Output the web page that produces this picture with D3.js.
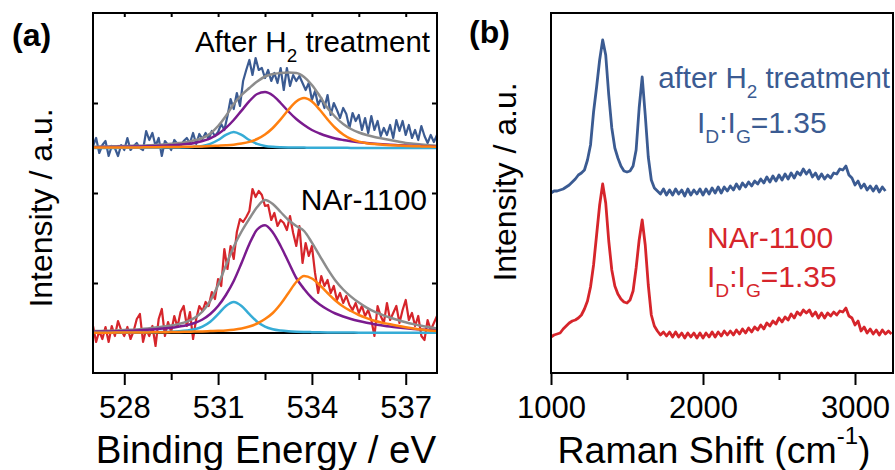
<!DOCTYPE html>
<html>
<head>
<meta charset="utf-8">
<script src="https://cdn.jsdelivr.net/npm/d3@7"></script>
<style>
	body { margin: 0; background: #fff; }
	svg { display: block; font-family: 'Liberation Sans', Arial, sans-serif; }
</style>
</head>
<body>
<svg id="chart" width="895" height="470"></svg>
<script>
// (a) O 1s XPS, raw spectra, 527-538 eV every 0.1 eV, height above each baseline
const xpsStart = 527
const xpsStep = 0.1
const xpsH2 = [
	2, 10, -5, 3, 7, -8, 2, 0, -8, 3,
	-2, 10, -2, 2, 5, 0, -2, 17, 8, 15,
	2, 10, -8, 7, 3, -2, 8, 4, 2, 7,
	10, 5, 15, 4, 14, 9, 15, 9, 17, 12,
	16, 24, 18, 32, 49, 39, 55, 42, 67, 78,
	88, 73, 90, 78, 80, 70, 78, 67, 75, 65,
	80, 58, 80, 62, 73, 67, 72, 65, 58, 65,
	48, 57, 43, 50, 40, 53, 33, 45, 38, 30,
	40, 34, 20, 35, 27, 33, 18, 30, 15, 32,
	18, 27, 12, 20, 13, 23, 10, 28, 17, 27,
	13, 23, 10, 18, 8, 22, 12, 5, 13, 6,
	13
]
const xpsNAr = [
	7, -9, 2, -6, 6, -9, 7, -3, 12, 3,
	-3, 6, -6, 2, 14, 19, -9, 4, -3, 7,
	-13, 14, 24, -3, 11, 1, 17, 6, 21, 27,
	7, 21, -6, 14, 27, 22, 31, 27, 41, 34,
	54, 47, 84, 64, 87, 74, 101, 114, 111, 116,
	122, 144, 136, 142, 138, 127, 128, 113, 120, 107,
	113, 110, 103, 117, 100, 87, 107, 70, 90, 77,
	87, 60, 40, 57, 47, 53, 40, 47, 33, 40,
	30, 37, 28, 23, 30, 20, 27, 17, 23, 13,
	-3, 27, 17, 10, 30, 13, 20, 27, 10, 23,
	33, 13, 20, 7, 17, -3, -7, 13, 3, 10,
	17
]

// fitted components, 527-538 eV every 0.25 eV
const fitStart = 527
const fitStep = 0.25
const fitH2Envelope = [
	1.3, 1.4, 1.6, 1.7, 1.9, 2.2, 2.3, 2.7, 3.1, 3.6,
	4.2, 4.9, 5.9, 7.7, 10, 14.5, 22, 32, 44, 53,
	60, 66.5, 71.5, 74, 75, 75.5, 75, 71, 63, 52,
	40, 31, 24, 19, 15.5, 13, 11, 9.5, 8, 6.5,
	5, 4.2, 3.5, 2.8, 2.2
]
const fitH2Purple = [
	0.8, 0.9, 1.0, 1.1, 1.2, 1.4, 1.5, 1.7, 2.0, 2.3,
	2.7, 3.2, 3.9, 5.1, 7.0, 9.7, 14.0, 20.1, 28.0, 37.4,
	46.8, 54.0, 55.9, 52.5, 45, 36.5, 29, 23, 18, 14.5,
	11.7, 9.5, 8, 6.8, 5.8, 5, 4.3, 3.7, 3.2, 2.8,
	2.4, 2.1, 1.9, 1.7, 1.5
]
const fitH2Orange = [
	0.4, 0.4, 0.5, 0.5, 0.5, 0.6, 0.6, 0.7, 0.8, 0.9,
	1.0, 1.1, 1.2, 1.4, 1.6, 1.9, 2.3, 2.7, 3.3, 4.4,
	6.1, 9.0, 13.5, 20.0, 28.6, 38.2, 46.5, 50, 46.5, 38.2,
	28.6, 20.0, 13.5, 9.0, 6.4, 4.8, 3.9, 3.3, 2.8, 2.4,
	2.1, 1.8, 1.6, 1.4, 1.2
]
const fitH2Cyan = [
	0.1, 0.1, 0.1, 0.1, 0.2, 0.2, 0.2, 0.3, 0.3, 0.4,
	0.5, 0.6, 0.8, 1.2, 2.1, 4.1, 8.0, 13.1, 16, 13.1,
	8.0, 4.1, 2.1, 1.2, 0.8, 0.6, 0.5, 0.4, 0.3, 0.3,
	0.2, 0.2, 0.2, 0.1, 0.1, 0.1, 0.1, 0.1, 0.1, 0.1,
	0.1, 0.1, 0.1, 0.1, 0.1
]
const fitNArEnvelope = [
	1.9, 2.0, 2.3, 2.6, 2.9, 3.3, 3.8, 4.5, 5.4, 6.4,
	7.4, 9.1, 11.4, 15.1, 21.5, 32.2, 48, 67.6, 86.3, 101.5,
	114.3, 126, 133, 129, 121, 113, 107, 102, 90.4, 77.2,
	64.1, 52.5, 43.5, 36.4, 30.4, 25.4, 21.3, 18.2, 15.5, 13,
	10.8, 8.9, 7.2, 5.8, 4.6
]
const fitNArPurple = [
	1.3, 1.4, 1.6, 1.8, 2.0, 2.3, 2.7, 3.2, 3.8, 4.5,
	5.2, 6.4, 7.8, 10, 13.5, 19, 27, 38, 52, 70,
	89, 103.5, 107.8, 100.5, 87, 71, 55, 44, 35, 28.5,
	23.5, 19.5, 16.5, 14, 12, 10.3, 8.8, 7.6, 6.5, 5.6,
	4.8, 4.1, 3.5, 3.0, 2.6
]
const fitNArOrange = [
	0.3, 0.3, 0.35, 0.4, 0.45, 0.5, 0.55, 0.6, 0.7, 0.8,
	0.9, 1.0, 1.2, 1.4, 1.6, 1.9, 2.2, 2.6, 3.3, 4.5,
	6.5, 9.5, 14, 20, 29, 40, 51, 57, 54.5, 48,
	40, 32.5, 26.5, 22, 18, 14.8, 12.2, 10.3, 8.8, 7.2,
	5.8, 4.6, 3.5, 2.6, 1.9
]
const fitNArCyan = [
	0.27, 0.32, 0.36, 0.4, 0.45, 0.51, 0.59, 0.71, 0.87, 1.05,
	1.3, 1.7, 2.4, 3.7, 6.4, 11.3, 18.8, 27, 31, 27,
	18.8, 11.3, 6.4, 3.7, 2.4, 1.7, 1.3, 1.05, 0.87, 0.71,
	0.59, 0.51, 0.45, 0.4, 0.36, 0.32, 0.27, 0.25, 0.22, 0.2,
	0.19, 0.17, 0.16, 0.15, 0.14
]
const baselineEnergy = [527, 538]
const baselineValues = [0, 0]

// vertical offsets of the two stacked XPS spectra
const offsetH2 = 225
const offsetNAr = 40

const xpsMajorTicks = [528, 531, 534, 537]
const xpsMinorTicks = [529.5, 532.5, 535.5]
const xpsSideTicks = [90, 180, 270]

// (b) Raman, 1000 cm-1 upwards every 20 cm-1
const ramanStart = 1000
const ramanStep = 20
const ramanH2 = [
	180, 182, 182, 183, 184, 186, 188, 191, 194, 198,
	200, 203, 213, 228, 261, 286, 313, 333, 318, 278,
	245, 225, 215, 207, 202, 201, 202, 207, 223, 265,
	296, 258, 216, 193, 185, 182, 179, 184, 178, 183,
	178, 184, 179, 183, 177, 184, 178, 183, 179, 184,
	178, 184, 179, 185, 180, 186, 180, 186, 182, 187,
	183, 189, 184, 190, 186, 191, 187, 192, 189, 194,
	190, 196, 191, 197, 192, 198, 193, 199, 194, 200,
	195, 201, 198, 204, 199, 203, 196, 200, 194, 199,
	194, 198, 195, 200, 199, 204, 203, 207, 198, 195,
	188, 192, 185, 189, 183, 187, 182, 187, 181, 186,
	182
]
const ramanNAr = [
	36, 38, 39, 40, 44, 47, 50, 52, 53, 55,
	58, 64, 72, 86, 108, 138, 168, 189, 170, 132,
	103, 87, 79, 74, 71, 70, 73, 82, 105, 133,
	153, 128, 88, 58, 47, 42, 38, 41, 37, 41,
	36, 41, 36, 40, 35, 40, 36, 40, 35, 40,
	35, 40, 36, 41, 36, 41, 37, 42, 38, 42,
	38, 43, 39, 44, 40, 45, 41, 46, 43, 48,
	44, 50, 47, 52, 49, 55, 51, 56, 53, 59,
	55, 61, 58, 63, 60, 63, 57, 61, 55, 60,
	55, 60, 57, 61, 58, 62, 61, 65, 57, 55,
	48, 52, 42, 46, 40, 44, 39, 43, 38, 43,
	39, 42, 39
]
const ramanMajorTicks = [1000, 2000, 3000]
const ramanMinorTicks = [1500, 2500]

const colors = {
	h2: '#3b5b92',
	nar: '#d6252b',
	envelope: '#8c8c8c',
	purple: '#7a1b8e',
	orange: '#ff8010',
	cyan: '#36acd6'
}

const svg = d3.select('#chart')

const xA = d3.scaleLinear().domain([527, 538]).range([93, 437])
const xB = d3.scaleLinear().domain([1000, 3250]).range([551, 893])
const y = d3.scaleLinear().domain([0, 360]).range([373, 13])

const series = (values, start, step, offset = 0) =>
	values.map((v, i) => [start + i * step, v + offset])

const drawLine = (data, x, color, width, curve = d3.curveLinear) => {
	svg.append('path')
		.datum(data)
		.attr('fill', 'none')
		.attr('stroke', color)
		.attr('stroke-width', width)
		.attr('stroke-linejoin', 'round')
		.attr('d', d3.line().x((d) => x(d[0])).y((d) => y(d[1])).curve(curve))
}

const addText = (x, yPos, parts, size, opts = {}) => {
	const t = svg.append('text')
		.attr('x', x)
		.attr('y', yPos)
		.attr('font-size', size)
		.attr('font-weight', opts.weight || 'normal')
		.attr('text-anchor', opts.anchor || 'start')
		.attr('fill', opts.color || '#000')
	if (opts.transform) t.attr('transform', opts.transform)
	let shift = 0
	parts.forEach(([str, kind]) => {
		const target = kind === 'sub' ? size * 0.33 : kind === 'sup' ? -size * 0.5 : 0
		t.append('tspan')
			.attr('dy', target - shift)
			.attr('font-size', kind ? size * 0.64 : size)
			.text(str)
		shift = target
	})
	return t
}

const styleAxis = (g) => {
	g.select('.domain').remove()
	g.selectAll('line').attr('stroke', '#000').attr('stroke-width', 2)
	g.selectAll('text')
		.attr('y', 45)
		.attr('dy', 0)
		.attr('fill', '#000')
		.attr('font-size', 31)
		.attr('font-family', 'Liberation Sans, Arial, sans-serif')
}

// ---- panel (a) ----
const fitCurve = d3.curveMonotoneX

drawLine(series(xpsH2, xpsStart, xpsStep, offsetH2), xA, colors.h2, 2.2)
drawLine(series(fitH2Envelope, fitStart, fitStep, offsetH2), xA, colors.envelope, 2.5, fitCurve)
drawLine(baselineEnergy.map((e, i) => [e, baselineValues[i] + offsetH2]), xA, '#000', 2)
drawLine(series(fitH2Purple, fitStart, fitStep, offsetH2), xA, colors.purple, 2.5, fitCurve)
drawLine(series(fitH2Cyan, fitStart, fitStep, offsetH2), xA, colors.cyan, 2.5, fitCurve)
drawLine(series(fitH2Orange, fitStart, fitStep, offsetH2), xA, colors.orange, 2.5, fitCurve)

drawLine(series(xpsNAr, xpsStart, xpsStep, offsetNAr), xA, colors.nar, 2.2)
drawLine(series(fitNArEnvelope, fitStart, fitStep, offsetNAr), xA, colors.envelope, 2.5, fitCurve)
drawLine(baselineEnergy.map((e, i) => [e, baselineValues[i] + offsetNAr]), xA, '#000', 2)
drawLine(series(fitNArPurple, fitStart, fitStep, offsetNAr), xA, colors.purple, 2.5, fitCurve)
drawLine(series(fitNArCyan, fitStart, fitStep, offsetNAr), xA, colors.cyan, 2.5, fitCurve)
drawLine(series(fitNArOrange, fitStart, fitStep, offsetNAr), xA, colors.orange, 2.5, fitCurve)

svg.append('g').attr('transform', 'translate(0,373)')
	.call(d3.axisBottom(xA).tickValues(xpsMajorTicks).tickSize(12).tickSizeOuter(0).tickFormat(d3.format('d')))
	.call(styleAxis)
svg.append('g').attr('transform', 'translate(0,373)')
	.call(d3.axisBottom(xA).tickValues(xpsMinorTicks).tickSize(7).tickSizeOuter(0).tickFormat(''))
	.call(styleAxis)
svg.append('g').attr('transform', 'translate(0,13)')
	.call(d3.axisTop(xA).tickValues(xpsMajorTicks.concat(xpsMinorTicks)).tickSize(-4).tickSizeOuter(0).tickFormat(''))
	.call(styleAxis)
svg.append('g').attr('transform', 'translate(93,0)')
	.call(d3.axisLeft(y).tickValues(xpsSideTicks).tickSize(-5).tickSizeOuter(0).tickFormat(''))
	.call(styleAxis)
svg.append('g').attr('transform', 'translate(437,0)')
	.call(d3.axisRight(y).tickValues(xpsSideTicks).tickSize(-5).tickSizeOuter(0).tickFormat(''))
	.call(styleAxis)

svg.append('rect')
	.attr('x', 93).attr('y', 13)
	.attr('width', 437 - 93).attr('height', 360)
	.attr('fill', 'none').attr('stroke', '#000').attr('stroke-width', 2)

addText(12, 46, [['(a)']], 32, { weight: 'bold' })
addText(0, 0, [['Intensity / a.u.']], 32, { anchor: 'middle', transform: 'translate(52,208) rotate(-90)' })
addText(430, 52, [['After H'], ['2', 'sub'], [' treatment']], 29.5, { anchor: 'end' })
addText(427, 210, [['NAr-1100']], 30, { anchor: 'end' })
addText(266, 463, [['Binding Energy / eV']], 38.5, { anchor: 'middle' })

// ---- panel (b) ----
drawLine(series(ramanH2, ramanStart, ramanStep), xB, colors.h2, 2.8)
drawLine(series(ramanNAr, ramanStart, ramanStep), xB, colors.nar, 2.8)

svg.append('g').attr('transform', 'translate(0,373)')
	.call(d3.axisBottom(xB).tickValues(ramanMajorTicks).tickSize(12).tickSizeOuter(0).tickFormat(d3.format('d')))
	.call(styleAxis)
svg.append('g').attr('transform', 'translate(0,373)')
	.call(d3.axisBottom(xB).tickValues(ramanMinorTicks).tickSize(7).tickSizeOuter(0).tickFormat(''))
	.call(styleAxis)

svg.append('rect')
	.attr('x', 551).attr('y', 13)
	.attr('width', 893 - 551).attr('height', 360)
	.attr('fill', 'none').attr('stroke', '#000').attr('stroke-width', 2)

addText(469, 43, [['(b)']], 32, { weight: 'bold' })
addText(0, 0, [['Intensity / a.u.']], 32, { anchor: 'middle', transform: 'translate(516,182) rotate(-90)' })
addText(890, 88, [['after H'], ['2', 'sub'], [' treatment']], 29.5, { anchor: 'end', color: colors.h2 })
addText(697, 133, [['I'], ['D', 'sub'], [':I'], ['G', 'sub'], ['=1.35']], 30, { color: colors.h2 })
addText(707, 248, [['NAr-1100']], 30, { color: colors.nar })
addText(707, 287, [['I'], ['D', 'sub'], [':I'], ['G', 'sub'], ['=1.35']], 30, { color: colors.nar })
addText(714, 463, [['Raman Shift (cm'], ['-1', 'sup'], [')']], 37.5, { anchor: 'middle' })
</script>
</body>
</html>
